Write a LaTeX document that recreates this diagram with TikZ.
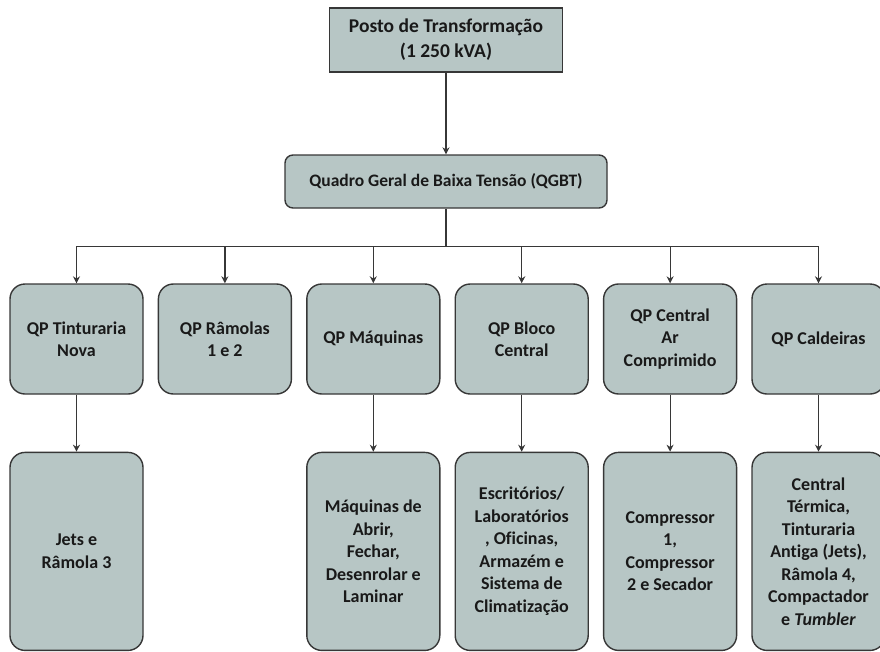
\documentclass[tikz,border=0pt]{standalone}
\usepackage{fontspec}
\setmainfont[Ligatures=NoCommon]{Carlito}
\usepackage{tikz}
\usetikzlibrary{arrows.meta, positioning}
\definecolor{boxfill}{RGB}{183,198,197}
\definecolor{boxline}{RGB}{55,55,55}
\definecolor{boxtext}{RGB}{25,25,25}

\begin{document}
\begin{tikzpicture}[x=1pt, y=-1pt, node distance=14pt,
  block/.style={draw=boxline, fill=boxfill, line width=1.4pt, rounded corners=15pt,
                minimum width=133pt, minimum height=110pt, inner sep=2pt,
                align=center, text=boxtext, font=\fontsize{18}{22.5}\selectfont\bfseries},
  subblock/.style={block, minimum height=198pt},
  topblock/.style={block, rounded corners=0pt, minimum width=233pt, minimum height=64pt,
                   font=\fontsize{19.5}{25}\selectfont\bfseries},
  arrow/.style={-{Stealth[length=7pt, width=7pt]}, draw=boxline, line width=1.2pt}]

  \useasboundingbox (0,0) rectangle (880,651);

  \node[topblock] (posto) at (446,40) {Posto de Transformação\\(1 250 kVA)};
  \node[block, rounded corners=8pt, minimum width=322pt, minimum height=53pt,
        font=\fontsize{17.5}{22}\selectfont\bfseries]
        (qgbt) at (446,181.5) {Quadro Geral de Baixa Tensão (QGBT)};

  % quadros parciais
  \node[block] (tinnova) at (76.5,339) {QP Tinturaria\\Nova};
  \node[block, right=of tinnova]  (ramolas)   {QP Râmolas\\1 e 2};
  \node[block, right=of ramolas]  (maquinas)  {QP Máquinas};
  \node[block, right=of maquinas] (bloco)     {QP Bloco\\Central};
  \node[block, right=of bloco]    (arcomp)    {QP Central\\Ar\\Comprimido};
  \node[block, right=of arcomp]   (caldeiras) {QP Caldeiras};

  % cargas
  \node[subblock, below=57pt of tinnova]   (jets)     {Jets e\\Râmola 3};
  \node[subblock, below=57pt of maquinas]  (maqabrir) {Máquinas de\\Abrir,\\Fechar,\\Desenrolar e\\Laminar};
  \node[subblock, below=57pt of bloco]     (escrit)   {Escritórios/\\Laboratórios\\, Oficinas,\\Armazém e\\Sistema de\\Climatização};
  \node[subblock, below=57pt of arcomp]    (compress) {Compressor\\1,\\Compressor\\2 e Secador};
  \node[subblock, below=57pt of caldeiras] (central)  {Central\\Térmica,\\Tinturaria\\Antiga (Jets),\\Râmola 4,\\Compactador\\e \textit{Tumbler}};

  \draw[arrow] (posto) -- (qgbt);
  \draw[draw=boxline, line width=1.8pt] (qgbt.south) -- ++(0,38) coordinate (bus);
  \foreach \q in {tinnova, ramolas, maquinas, bloco, arcomp, caldeiras}
    \draw[arrow] (bus) -| (\q.north);

  \draw[arrow] (tinnova)   -- (jets);
  \draw[arrow] (maquinas)  -- (maqabrir);
  \draw[arrow] (bloco)     -- (escrit);
  \draw[arrow] (arcomp)    -- (compress);
  \draw[arrow] (caldeiras) -- (central);
\end{tikzpicture}
\end{document}
